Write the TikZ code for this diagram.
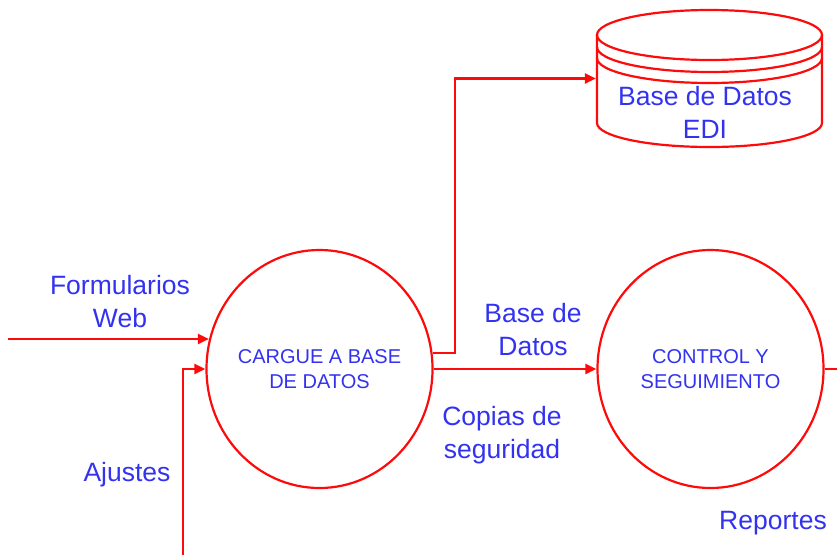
\documentclass[tikz,border=0pt]{standalone}
\usepackage{fontspec}
\setmainfont{Liberation Sans}
\usepackage{tikz}
\usetikzlibrary{arrows.meta,shapes.geometric}
\definecolor{flowred}{RGB}{255,10,10}
\definecolor{textblue}{RGB}{50,50,240}

\begin{document}
\begin{tikzpicture}[x=1pt,y=-1pt,>={Triangle[length=11pt,width=10pt]},line width=2.2pt]
  \tikzstyle{process}=[ellipse,draw=flowred,minimum width=226pt,minimum height=238pt,inner xsep=-4pt,inner ysep=0pt,text=textblue,align=center,font=\fontsize{20}{25}\selectfont]
  \tikzstyle{flow}=[->,draw=flowred]
  \tikzstyle{lbl}=[text=textblue,align=center,font=\fontsize{26.5}{33}\selectfont]

  \useasboundingbox (0,0) rectangle (837,554);

  \node[process]         (load)  at (319.5,369) {CARGUE A BASE\\DE DATOS};
  \node[process]         (track) at (710.5,369) {CONTROL Y\\SEGUIMIENTO};

  % data store
  \node[minimum width=225pt,minimum height=137pt] (edi) at (709.5,78.5) {};
  \draw[flowred] (597,35) -- (597,123) arc[start angle=180,end angle=360,x radius=112.5pt,y radius=24pt] -- (822,35);
  \draw[flowred] (709.5,35) ellipse [x radius=112.5pt,y radius=25pt];
  \draw[flowred] (597,47) arc[start angle=180,end angle=360,x radius=112.5pt,y radius=25pt];
  \draw[flowred] (597,58) arc[start angle=180,end angle=360,x radius=112.5pt,y radius=25pt];
  \node[lbl]             (editxt) at (705,112) {Base de Datos\\EDI};

  \node[lbl]             (forms) at (120,302) {Formularios\\Web};
  \node[lbl]             (adj)   at (127,475) {Ajustes};
  \node[lbl]             (dbl)   at (533,330) {Base de\\Datos};
  \node[lbl]             (bak)   at (502,435) {Copias de\\seguridad};
  \node[lbl]             (rep)   at (773,523) {Reportes};

  \coordinate (fin)   at (8,339);
  \coordinate (ain)   at (183,570);
  \coordinate (riser) at (455,80);
  \coordinate (rout)  at (850,369);

  \draw[flow] (fin) -- (load.165 |- fin);
  \draw[flow] (ain) |- (load.west);
  \draw[flow] (load.8) -- (load.8 -| riser) |- (edi.west);
  \draw[flow] (load.east) -- (track.west);
  \draw[flowred] (track.east) -- (rout);
\end{tikzpicture}
\end{document}
